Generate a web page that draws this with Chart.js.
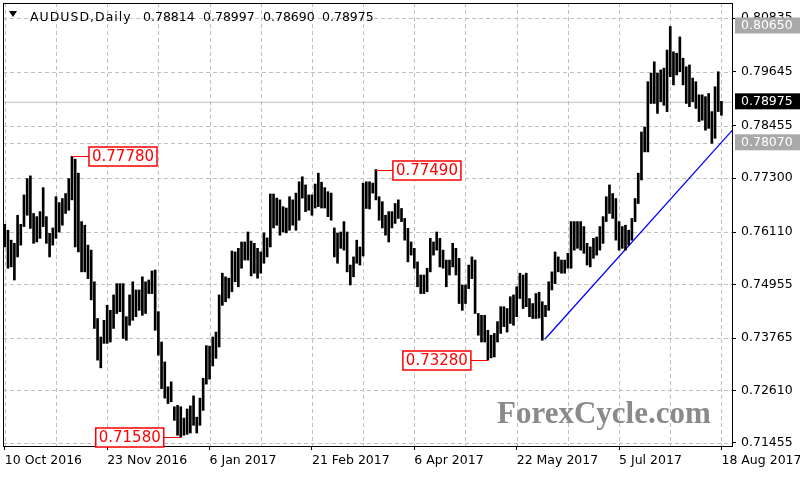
<!DOCTYPE html>
<html>
<head>
<meta charset="utf-8">
<script src="https://cdn.jsdelivr.net/npm/chart.js@4.4.1/dist/chart.umd.min.js"></script>
<style>
  html, body { margin: 0; padding: 0; background: #fff; }
  #grafico { display: block; }
</style>
</head>
<body>
<canvas id="grafico" width="800" height="480"></canvas>
<script>
// daily bars, AUDUSD, 10 Oct 2016 .. 18 Aug 2017 (one value per trading day)
const highs = [
  0.7628, 0.7615, 0.7593, 0.7586, 0.7648, 0.7628, 0.7693, 0.7729, 0.7735, 0.7652,
  0.7645, 0.7656, 0.7709, 0.7645, 0.7608, 0.7620, 0.7689, 0.7676, 0.7685, 0.7696,
  0.7729, 0.7778, 0.7772, 0.7741, 0.7634, 0.7626, 0.7582, 0.7571, 0.7501, 0.7420,
  0.7379, 0.7416, 0.7449, 0.7438, 0.7472, 0.7497, 0.7497, 0.7497, 0.7424, 0.7472,
  0.7501, 0.7483, 0.7483, 0.7512, 0.7501, 0.7505, 0.7525, 0.7527, 0.7435, 0.7368,
  0.7324, 0.7269, 0.7280, 0.7225, 0.7228, 0.7225, 0.7200, 0.7220, 0.7227, 0.7249,
  0.7202, 0.7244, 0.7288, 0.7360, 0.7359, 0.7379, 0.7390, 0.7472, 0.7520, 0.7512,
  0.7509, 0.7569, 0.7567, 0.7575, 0.7589, 0.7589, 0.7611, 0.7591, 0.7586, 0.7575,
  0.7567, 0.7609, 0.7598, 0.7695, 0.7695, 0.7686, 0.7682, 0.7667, 0.7664, 0.7689,
  0.7682, 0.7697, 0.7722, 0.7733, 0.7715, 0.7693, 0.7693, 0.7717, 0.7741, 0.7721,
  0.7709, 0.7700, 0.7697, 0.7620, 0.7609, 0.7611, 0.7634, 0.7611, 0.7538, 0.7556,
  0.7593, 0.7578, 0.7719, 0.7722, 0.7722, 0.7719, 0.7749, 0.7689, 0.7678, 0.7648,
  0.7656, 0.7656, 0.7674, 0.7682, 0.7663, 0.7641, 0.7619, 0.7589, 0.7575, 0.7545,
  0.7516, 0.7516, 0.7531, 0.7597, 0.7589, 0.7611, 0.7597, 0.7571, 0.7549, 0.7549,
  0.7586, 0.7575, 0.7553, 0.7494, 0.7494, 0.7538, 0.7556, 0.7549, 0.7431, 0.7427,
  0.7427, 0.7394, 0.7383, 0.7387, 0.7413, 0.7446, 0.7446, 0.7442, 0.7468, 0.7472,
  0.7490, 0.7520, 0.7516, 0.7520, 0.7464, 0.7453, 0.7475, 0.7478, 0.7457, 0.7449,
  0.7501, 0.7523, 0.7567, 0.7556, 0.7549, 0.7549, 0.7564, 0.7634, 0.7634, 0.7634,
  0.7634, 0.7623, 0.7586, 0.7578, 0.7597, 0.7600, 0.7623, 0.7645, 0.7689, 0.7715,
  0.7696, 0.7685, 0.7634, 0.7623, 0.7626, 0.7615, 0.7641, 0.7685, 0.7741, 0.7832,
  0.7843, 0.7943, 0.7962, 0.7987, 0.7962, 0.7969, 0.7973, 0.8013, 0.8065, 0.8009,
  0.8006, 0.8042, 0.7995, 0.7976, 0.7980, 0.7951, 0.7943, 0.7914, 0.7914, 0.7910,
  0.7917, 0.7877, 0.7932, 0.7965, 0.78997
];
const lows = [
  0.7578, 0.7531, 0.7534, 0.7505, 0.7556, 0.7582, 0.7623, 0.7648, 0.7619, 0.7586,
  0.7589, 0.7597, 0.7623, 0.7586, 0.7556, 0.7582, 0.7597, 0.7611, 0.7626, 0.7652,
  0.7659, 0.7682, 0.7578, 0.7567, 0.7523, 0.7523, 0.7508, 0.7461, 0.7398, 0.7328,
  0.7311, 0.7365, 0.7365, 0.7368, 0.7398, 0.7431, 0.7435, 0.7376, 0.7372, 0.7405,
  0.7416, 0.7424, 0.7438, 0.7427, 0.7431, 0.7475, 0.7475, 0.7394, 0.7339, 0.7265,
  0.7244, 0.7232, 0.7236, 0.7195, 0.7162, 0.7158, 0.7162, 0.7164, 0.7167, 0.7184,
  0.7167, 0.7184, 0.7217, 0.7275, 0.7286, 0.7315, 0.7332, 0.7357, 0.7449, 0.7457,
  0.7465, 0.7479, 0.7501, 0.7490, 0.7531, 0.7549, 0.7549, 0.7514, 0.7520, 0.7509,
  0.7520, 0.7542, 0.7556, 0.7578, 0.7620, 0.7626, 0.7604, 0.7611, 0.7609, 0.7615,
  0.7626, 0.7615, 0.7637, 0.7686, 0.7656, 0.7659, 0.7648, 0.7664, 0.7667, 0.7664,
  0.7664, 0.7645, 0.7637, 0.7556, 0.7542, 0.7575, 0.7571, 0.7523, 0.7494, 0.7512,
  0.7542, 0.7538, 0.7558, 0.7663, 0.7662, 0.7697, 0.7682, 0.7637, 0.7620, 0.7604,
  0.7589, 0.7620, 0.7630, 0.7641, 0.7634, 0.7593, 0.7545, 0.7560, 0.7531, 0.7490,
  0.7475, 0.7475, 0.7479, 0.7523, 0.7560, 0.7571, 0.7534, 0.7531, 0.7490, 0.7516,
  0.7534, 0.7516, 0.7453, 0.7438, 0.7453, 0.7486, 0.7508, 0.7431, 0.7383, 0.7368,
  0.7368, 0.7328, 0.7333, 0.7335, 0.7368, 0.7387, 0.7402, 0.7390, 0.7409, 0.7405,
  0.7424, 0.7464, 0.7442, 0.7446, 0.7424, 0.7420, 0.7420, 0.7421, 0.7372, 0.7424,
  0.7438, 0.7483, 0.7497, 0.7523, 0.7520, 0.7520, 0.7531, 0.7531, 0.7571, 0.7575,
  0.7571, 0.7564, 0.7538, 0.7534, 0.7553, 0.7560, 0.7571, 0.7586, 0.7634, 0.7652,
  0.7641, 0.7593, 0.7571, 0.7575, 0.7571, 0.7582, 0.7593, 0.7634, 0.7674, 0.7726,
  0.7788, 0.7788, 0.7895, 0.7895, 0.7873, 0.7899, 0.7891, 0.7877, 0.7954, 0.7936,
  0.7958, 0.7965, 0.7936, 0.7895, 0.7888, 0.7899, 0.7884, 0.7855, 0.7858, 0.7836,
  0.7840, 0.7807, 0.7818, 0.7877, 0.78690
];

// last bar O H L C shown in the header
const lastBar = [0.78814, 0.78997, 0.78690, 0.78975];

// x axis: bar index of each date label, grid every 16 bars
const dateIdx = [0, 32, 64, 96, 128, 160, 192, 224];
const dateLabels = ["10 Oct 2016", "23 Nov 2016", "6 Jan 2017", "21 Feb 2017",
                    "6 Apr 2017", "22 May 2017", "5 Jul 2017", "18 Aug 2017"];
const xGrid = [0, 16, 32, 48, 64, 80, 96, 112, 128, 144, 160, 176, 192, 208, 224];

// price axis ticks
const priceTicks = [0.71455, 0.72610, 0.73765, 0.74955, 0.76110, 0.77300, 0.78455, 0.79645, 0.80835];

// swing highs / lows marked with red boxes
const swingIdx = [21, 116, 151, 55];
const swingPrice = [0.77780, 0.77490, 0.73280, 0.71580];
const swingSide = ["right", "right", "left", "left"];

// trend line (bar index, price)
const trendX = [168.8, 227.3];
const trendY = [0.7374, 0.7835];

// horizontal levels
const bidPrice = 0.78975;
const supportPrice = 0.78070;
const grayMarks = [0.80650, 0.78070];

const FONT = "'DejaVu Sans', sans-serif";

const barData = highs.map((h, i) => ({ x: i, y: [lows[i], h] }));

// dashed line drawn as short segments
function dashLine(ctx, x1, y1, x2, y2, on, off) {
  const len = Math.hypot(x2 - x1, y2 - y1);
  const dx = (x2 - x1) / len, dy = (y2 - y1) / len;
  ctx.beginPath();
  for (let d = 0; d < len; d += on + off) {
    const e = Math.min(d + on, len);
    ctx.moveTo(x1 + dx * d, y1 + dy * d);
    ctx.lineTo(x1 + dx * e, y1 + dy * e);
  }
  ctx.stroke();
}

const grid = {
  id: "grid",
  beforeDatasetsDraw(chart) {
    const ctx = chart.ctx;
    const a = chart.chartArea;
    const xs = chart.scales.x;
    const ys = chart.scales.y;
    ctx.save();
    ctx.strokeStyle = "#c0c0c0";
    ctx.lineWidth = 1;
    xGrid.forEach(v => {
      const x = Math.round(xs.getPixelForValue(v)) + 0.5;
      dashLine(ctx, x, a.top, x, a.bottom, 4, 3);
    });
    priceTicks.concat([supportPrice]).forEach(v => {
      const y = Math.round(ys.getPixelForValue(v)) + 0.5;
      if (y > a.top && y < a.bottom) dashLine(ctx, a.left, y, a.right, y, 4, 3);
    });
    ctx.restore();
  }
};

const overlay = {
  id: "overlay",
  afterDraw(chart) {
    const ctx = chart.ctx;
    const a = chart.chartArea;
    const xs = chart.scales.x;
    const ys = chart.scales.y;
    ctx.save();

    // frame
    ctx.strokeStyle = "#000";
    ctx.lineWidth = 1;
    ctx.strokeRect(Math.round(a.left) + 0.5, Math.round(a.top) + 0.5,
      Math.round(a.right - a.left), Math.round(a.bottom - a.top));

    // header
    ctx.fillStyle = "#000";
    ctx.beginPath();
    ctx.moveTo(9, 11); ctx.lineTo(17, 11); ctx.lineTo(13, 17); ctx.closePath();
    ctx.fill();
    ctx.font = "12.5px " + FONT;
    ctx.textBaseline = "alphabetic";
    ctx.textAlign = "left";
    ctx.letterSpacing = "1px";
    ctx.fillText("AUDUSD,Daily", 30, 21);
    ctx.letterSpacing = "0px";
    const hx = [143, 203, 263, 322];
    lastBar.forEach((v, k) => ctx.fillText(v.toFixed(5), hx[k], 21));

    // watermark
    ctx.font = "bold 31px 'Liberation Serif', serif";
    ctx.fillStyle = "#8a8a8a";
    ctx.fillText("ForexCycle.com", 497, 423);

    // swing labels
    ctx.font = "15px " + FONT;
    ctx.textBaseline = "middle";
    swingIdx.forEach((idx, k) => {
      const px = xs.getPixelForValue(idx);
      const py = Math.round(ys.getPixelForValue(swingPrice[k])) + 0.5;
      const txt = swingPrice[k].toFixed(5);
      const w = ctx.measureText(txt).width + 6;
      const h = 19;
      const bx = swingSide[k] === "right" ? px + 17 : px - 17 - w;
      ctx.strokeStyle = "#ff0000";
      ctx.lineWidth = 1;
      ctx.beginPath();
      if (swingSide[k] === "right") { ctx.moveTo(px, py); ctx.lineTo(bx, py); }
      else { ctx.moveTo(bx + w, py); ctx.lineTo(px, py); }
      ctx.stroke();
      ctx.fillStyle = "#fff";
      ctx.fillRect(bx, py - h / 2, w, h);
      ctx.lineWidth = 1.5;
      ctx.strokeRect(bx, py - h / 2, w, h);
      ctx.fillStyle = "#ff0000";
      ctx.textAlign = "left";
      ctx.fillText(txt, bx + 3, py + 1);
    });

    // price markers on the axis
    ctx.font = "12.5px " + FONT;
    const marks = grayMarks.map(p => ({ p: p, bg: "#a9a9a9" })).concat([{ p: bidPrice, bg: "#000" }]);
    marks.forEach(m => {
      const py = ys.getPixelForValue(m.p) - 1;
      ctx.fillStyle = m.bg;
      ctx.fillRect(a.right + 3, py - 8, 65, 16);
      ctx.fillStyle = "#fff";
      ctx.fillText(m.p.toFixed(5), a.right + 9, py + 0.5);
    });
    ctx.restore();
  }
};

new Chart(document.getElementById("grafico").getContext("2d"), {
  type: "bar",
  data: {
    datasets: [
      {
        type: "bar",
        data: barData,
        backgroundColor: "#000",
        borderWidth: 0,
        barThickness: 2,
        order: 0
      },
      {
        type: "line",
        data: trendX.map((x, k) => ({ x: x, y: trendY[k] })),
        borderColor: "#0000ff",
        borderWidth: 1.3,
        pointRadius: 0,
        fill: false,
        order: 1
      },
      {
        type: "line",
        data: [{ x: -1, y: bidPrice }, { x: 230, y: bidPrice }],
        borderColor: "#c0c0c0",
        borderWidth: 1,
        pointRadius: 0,
        fill: false,
        order: 2
      }
    ]
  },
  options: {
    responsive: false,
    animation: false,
    devicePixelRatio: 1,
    layout: { padding: { left: 3, top: 3, right: 0, bottom: 0 } },
    plugins: {
      legend: { display: false },
      tooltip: { enabled: false }
    },
    scales: {
      x: {
        type: "linear",
        offset: false,
        bounds: "data",
        min: -0.56,
        max: 227.3,
        afterBuildTicks: s => { s.ticks = xGrid.map(v => ({ value: v })); },
        afterFit: s => { s.height = 34; s.paddingLeft = 0; s.paddingRight = 0; },
        grid: {
          offset: false,
          drawOnChartArea: false,
          color: "#c0c0c0",
          tickLength: 4,
          tickColor: c => (c.tick && dateIdx.includes(c.tick.value)) ? "#000" : "rgba(0,0,0,0)"
        },
        border: { display: true, color: "#000" },
        ticks: {
          autoSkip: false,
          maxRotation: 0,
          align: "start",
          padding: 3,
          color: "#000",
          font: { family: FONT, size: 12.5 },
          callback: v => {
            const k = dateIdx.indexOf(v);
            return k >= 0 ? dateLabels[k] : "";
          }
        }
      },
      y: {
        position: "right",
        bounds: "data",
        min: 0.71383,
        max: 0.81169,
        afterBuildTicks: s => { s.ticks = priceTicks.map(v => ({ value: v })); },
        afterFit: s => { s.width = 68; s.paddingTop = 0; s.paddingBottom = 0; },
        grid: {
          drawOnChartArea: false,
          color: "#c0c0c0",
          tickLength: 4,
          tickColor: "#000"
        },
        border: { display: true, color: "#000" },
        ticks: {
          padding: 5,
          color: "#000",
          font: { family: FONT, size: 12.5 },
          callback: v => v.toFixed(5)
        }
      }
    }
  },
  plugins: [grid, overlay]
});
</script>
</body>
</html>
